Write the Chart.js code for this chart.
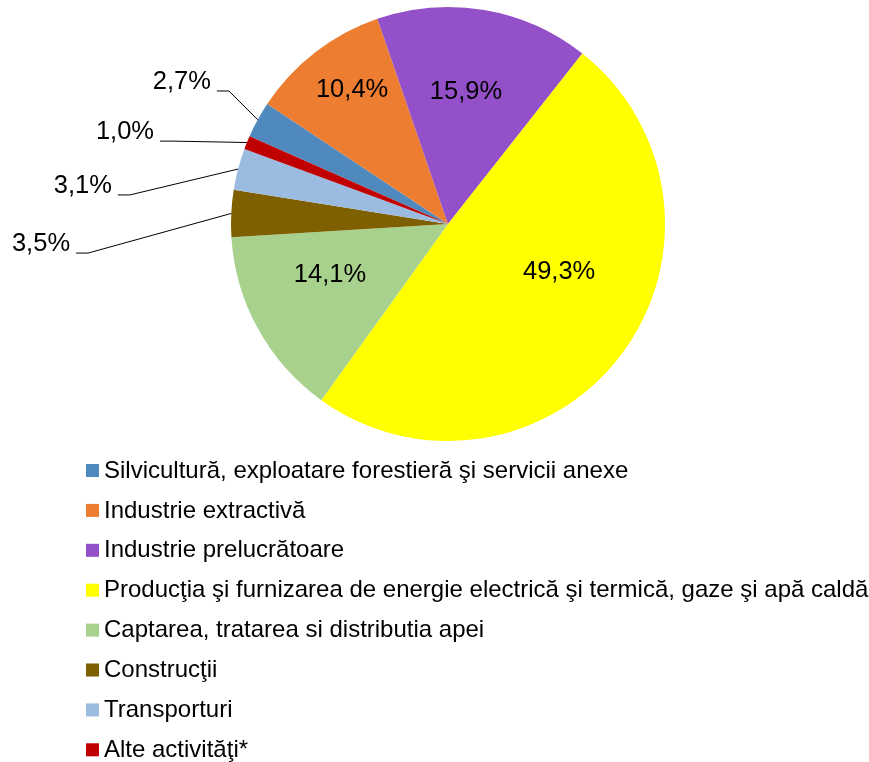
<!DOCTYPE html>
<html>
<head>
<meta charset="utf-8">
<script src="https://cdn.jsdelivr.net/npm/chart.js@4.4.1/dist/chart.umd.min.js"></script>
<style>
  html, body { margin: 0; padding: 0; background: #fff; }
  #wrap { width: 869px; height: 762px; position: relative; }
</style>
</head>
<body>
<div id="wrap"><canvas id="mycanvas"></canvas></div>
<script>
var categories = [
  "Silvicultură, exploatare forestieră şi servicii anexe",
  "Industrie extractivă",
  "Industrie prelucrătoare",
  "Producţia şi furnizarea de energie electrică şi termică, gaze şi apă caldă",
  "Captarea, tratarea si distributia apei",
  "Construcţii",
  "Transporturi",
  "Alte activităţi*"
];
var shares = [2.7, 10.4, 15.9, 49.3, 14.1, 3.5, 3.1, 1.0];

var colors = ["#4F89BE", "#ED7D31", "#9350C8", "#FFFF00", "#A9D18E", "#7F6000", "#9BBCE0", "#C00000"];

// label placement, in units of the pie radius, measured from the centre
// inside: text centre; outside: start of the leader line (text sits left of it)
var labelPlace = [
  { out: true,  dx: -1.065, dy: -0.613 },
  { out: false, dx: -0.442, dy: -0.618 },
  { out: false, dx:  0.083, dy: -0.608 },
  { out: false, dx:  0.512, dy:  0.221 },
  { out: false, dx: -0.544, dy:  0.235 },
  { out: true,  dx: -1.714, dy:  0.134 },
  { out: true,  dx: -1.521, dy: -0.134 },
  { out: true,  dx: -1.327, dy: -0.382 }
];

var FONT = "'Liberation Sans', Arial, sans-serif";

function fmt(v) {
  return v.toFixed(1).replace(".", ",") + "%";
}

var pieLabels = {
  id: "pieLabels",
  afterDatasetsDraw: function(chart) {
    var ctx = chart.ctx;
    var meta = chart.getDatasetMeta(0);
    ctx.save();
    ctx.font = "25.5px " + FONT;
    ctx.fillStyle = "#000";
    ctx.textBaseline = "middle";
    meta.data.forEach(function(arc, i) {
      var p = labelPlace[i];
      var R = arc.outerRadius;
      var cx = arc.x, cy = arc.y;
      var txt = fmt(shares[i]);
      if (!p.out) {
        ctx.textAlign = "center";
        ctx.fillText(txt, cx + p.dx * R, cy + p.dy * R);
        return;
      }
      var mid = (arc.startAngle + arc.endAngle) / 2;
      var ex = cx + Math.cos(mid) * R;
      var ey = cy + Math.sin(mid) * R;
      var sx = cx + p.dx * R;
      var sy = cy + p.dy * R;
      ctx.strokeStyle = "#000";
      ctx.lineWidth = 1;
      ctx.beginPath();
      ctx.moveTo(sx, sy);
      ctx.lineTo(sx + 12, sy);
      ctx.lineTo(ex, ey);
      ctx.stroke();
      ctx.textAlign = "right";
      ctx.fillText(txt, sx - 6, sy - 9);
    });
    ctx.restore();
  }
};

var sideLegend = {
  id: "sideLegend",
  afterDraw: function(chart) {
    var ctx = chart.ctx;
    ctx.save();
    ctx.font = "24px " + FONT;
    ctx.textAlign = "left";
    ctx.textBaseline = "middle";
    for (var i = 0; i < categories.length; i++) {
      var y = 470 + i * 39.9;
      ctx.fillStyle = colors[i];
      ctx.fillRect(86, y - 6, 13, 13);
      ctx.fillStyle = "#000";
      ctx.fillText(categories[i], 104, y + 1);
    }
    ctx.restore();
  }
};

var ctx = document.getElementById("mycanvas");
var PieChart = new Chart(ctx, {
  type: "pie",
  data: {
    labels: categories,
    datasets: [{
      data: shares,
      backgroundColor: colors,
      borderWidth: 0
    }]
  },
  options: {
    responsive: true,
    maintainAspectRatio: false,
    animation: false,
    rotation: -66.15,
    layout: { padding: { top: 7, bottom: 321, left: 231, right: 204 } },
    plugins: {
      legend: { display: false },
      tooltip: { enabled: false }
    }
  },
  plugins: [pieLabels, sideLegend]
});
</script>
</body>
</html>
